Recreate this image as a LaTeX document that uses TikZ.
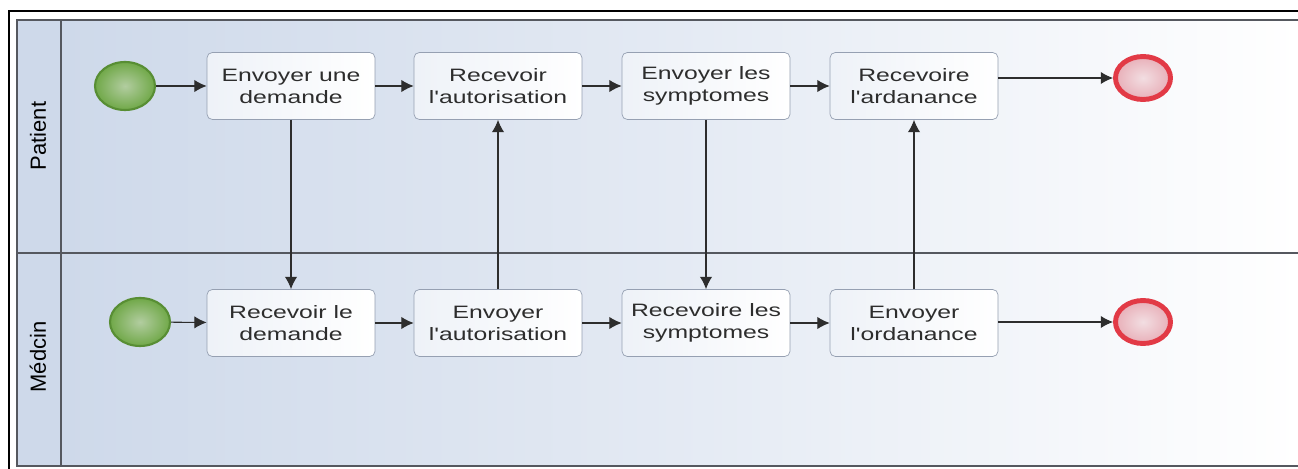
\documentclass[tikz,border=0pt]{standalone}
\usepackage{fontspec}
\setmainfont{Liberation Sans}
\newfontfamily\boxfont[FakeStretch=1.38]{Liberation Sans}
\usetikzlibrary{shapes.geometric,arrows.meta}
\definecolor{lanebg}{RGB}{206,217,234}
\definecolor{laneline}{RGB}{85,88,95}
\definecolor{boxline}{RGB}{150,160,178}
\definecolor{txt}{RGB}{45,45,45}
\definecolor{startin}{RGB}{178,205,160}
\definecolor{startout}{RGB}{112,168,72}
\definecolor{startline}{RGB}{88,142,52}
\definecolor{endin}{RGB}{242,222,226}
\definecolor{endout}{RGB}{232,175,184}
\definecolor{endline}{RGB}{226,58,70}
\begin{document}
\begin{tikzpicture}[x=0.02cm,y=-0.02cm,
    task/.style={draw=boxline,rounded corners=3pt,left color=lanebg!35,right color=white,
        minimum width=3.36cm,minimum height=1.34cm,align=center,text=txt,
        font=\boxfont\fontsize{10.2}{12.6}\selectfont,inner sep=1pt},
    startev/.style={ellipse,draw=startline,line width=1.2pt,inner color=startin,outer color=startout,
        minimum width=1.2cm,minimum height=0.96cm,inner sep=0pt},
    endev/.style={ellipse,draw=endline,line width=2.8pt,inner color=endin,outer color=endout,
        minimum width=1.1cm,minimum height=0.86cm,inner sep=0pt},
    lanelabel/.style={rotate=90,text=black,font=\fontsize{12.5}{14}\selectfont},
    flow/.style={draw=txt,line width=0.6pt,-{Latex[length=7pt,width=7pt]}}]
    \useasboundingbox (0,0) rectangle (1298,469);
    \fill[white] (0,0) rectangle (1298,469);
    % pool and lanes
    \shade[left color=lanebg,right color=white,middle color=lanebg!55] (61,20) rectangle (1300,466);
    \fill[lanebg] (17,20) rectangle (61,466);
    \draw[laneline,line width=1pt] (1300,20) -- (17,20) -- (17,466) -- (1300,466);
    \draw[laneline,line width=1pt] (61,20) -- (61,466); % label column
    \draw[laneline,line width=1.6pt] (17,253) -- (1300,253); % divider
    \draw[black,line width=1.2pt] (1300,11) -- (9,11) -- (9,470); % outer frame
    \node[lanelabel] (lpat) at (38,136) {Patient};
    \node[lanelabel] (lmed) at (38,357) {Médcin};
    % patient lane
    \node[startev] (pstart) at (125,86) {};
    \node[task] (t1) at (291,86) {Envoyer une\\demande};
    \node[task] (t2) at (498,86) {Recevoir\\l'autorisation};
    \node[task] (t3) at (706,86) {Envoyer les\\symptomes};
    \node[task] (t4) at (914,86) {Recevoire\\l'ardanance};
    \node[endev] (pend) at (1143,78) {};
    % medecin lane
    \node[startev] (mstart) at (140,322) {};
    \node[task] (t5) at (291,323) {Recevoir le\\demande};
    \node[task] (t6) at (498,323) {Envoyer\\l'autorisation};
    \node[task] (t7) at (706,323) {Recevoire les\\symptomes};
    \node[task] (t8) at (914,323) {Envoyer\\l'ordanance};
    \node[endev] (mend) at (1143,322) {};
    % sequence flows
    \draw[flow] (pstart) -- (t1);
    \draw[flow] (t1) -- (t2);
    \draw[flow] (t2) -- (t3);
    \draw[flow] (t3) -- (t4);
    \draw[flow] (t4.east |- pend) -- (pend);
    \draw[flow] (mstart) -- (t5);
    \draw[flow] (t5) -- (t6);
    \draw[flow] (t6) -- (t7);
    \draw[flow] (t7) -- (t8);
    \draw[flow] (t8.east |- mend) -- (mend);
    % messages between lanes
    \draw[flow] (t1) -- (t5);
    \draw[flow] (t6) -- (t2);
    \draw[flow] (t3) -- (t7);
    \draw[flow] (t8) -- (t4);
\end{tikzpicture}
\end{document}
